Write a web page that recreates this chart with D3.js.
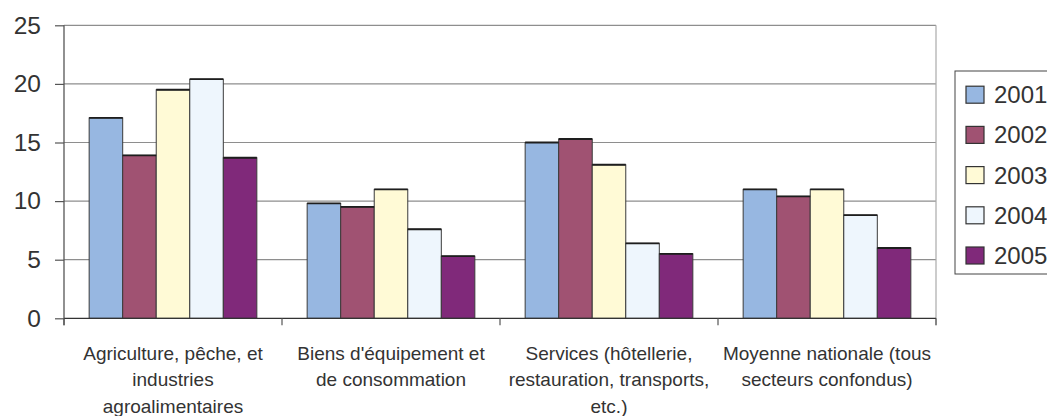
<!DOCTYPE html>
<html>
<head>
<meta charset="utf-8">
<script src="https://cdn.jsdelivr.net/npm/d3@7"></script>
<style>
  html, body { margin: 0; padding: 0; background: #fff; }
  svg { display: block; }
  text { font-family: "Liberation Sans", Arial, sans-serif; fill: #333; }
</style>
</head>
<body>
<svg id="chart" width="1047" height="416"></svg>
<script>
const categories = [
  ["Agriculture, pêche, et", "industries", "agroalimentaires"],
  ["Biens d'équipement et", "de consommation"],
  ["Services (hôtellerie,", "restauration, transports,", "etc.)"],
  ["Moyenne nationale (tous", "secteurs confondus)"]
];
const years = ["2001", "2002", "2003", "2004", "2005"];
const v2001 = [17.1, 9.8, 15.0, 11.0];
const v2002 = [13.9, 9.5, 15.3, 10.4];
const v2003 = [19.5, 11.0, 13.1, 11.0];
const v2004 = [20.4, 7.6, 6.4, 8.8];
const v2005 = [13.7, 5.3, 5.5, 6.0];
const yTicks = [0, 5, 10, 15, 20, 25];
const colors = ["#97b7e1", "#a05272", "#fffad6", "#eef6fd", "#80297a"];

(function () {
const series = [v2001, v2002, v2003, v2004, v2005];
const svg = d3.select("#chart");
const pLeft = 64, pRight = 936, pTop = 25.3, pBottom = 318.3;

const x0 = d3.scaleBand().domain(d3.range(categories.length)).range([pLeft, pRight]).paddingInner(0).paddingOuter(0);
const x1 = d3.scaleBand().domain(years).range([0, x0.bandwidth()]).paddingInner(0).paddingOuter(0.75);
const y = d3.scaleLinear().domain([0, 25]).range([pBottom, pTop]);

// gridlines
svg.append("g").selectAll("line").data(yTicks.filter(d => d > 0)).join("line")
  .attr("x1", pLeft).attr("x2", pRight)
  .attr("y1", d => y(d)).attr("y2", d => y(d))
  .attr("stroke", "#8e8e8e").attr("stroke-width", 1.2);

// right border of plot area
svg.append("line").attr("x1", pRight).attr("x2", pRight).attr("y1", pTop).attr("y2", pBottom + 7)
  .attr("stroke", "#aaa").attr("stroke-width", 1.2);

// y axis
const yAxis = d3.axisLeft(y).tickValues(yTicks).tickSize(9).tickPadding(14);
const gy = svg.append("g").attr("transform", `translate(${pLeft},0)`).call(yAxis);
gy.select(".domain").remove();
gy.selectAll(".tick line").attr("stroke", "#555").attr("stroke-width", 1.2);
gy.selectAll(".tick text").attr("font-size", 24.5).attr("fill", "#333")
  .style("font-family", '"Liberation Sans", Arial, sans-serif');
svg.append("line").attr("x1", pLeft).attr("x2", pLeft).attr("y1", pTop).attr("y2", pBottom + 7)
  .attr("stroke", "#555").attr("stroke-width", 1.3);

// bars
const groups = svg.append("g").selectAll("g").data(categories.map((c, i) => i)).join("g")
  .attr("transform", i => `translate(${x0(i)},0)`);
groups.each(function(ci) {
  const g = d3.select(this);
  const data = years.map((yr, si) => ({ yr, si, v: series[si][ci] }));
  g.selectAll("rect").data(data).join("rect")
    .attr("x", d => x1(d.yr)).attr("width", x1.bandwidth())
    .attr("y", d => y(d.v)).attr("height", d => pBottom - y(d.v))
    .attr("fill", d => colors[d.si]).attr("stroke", "#3a3a3a").attr("stroke-width", 1);
  g.selectAll("line.top").data(data).join("line").attr("class", "top")
    .attr("x1", d => x1(d.yr)).attr("x2", d => x1(d.yr) + x1.bandwidth())
    .attr("y1", d => y(d.v)).attr("y2", d => y(d.v))
    .attr("stroke", "#1e1e1e").attr("stroke-width", 1.8);
});

// x axis baseline and ticks
svg.append("line").attr("x1", pLeft).attr("x2", pRight).attr("y1", pBottom).attr("y2", pBottom)
  .attr("stroke", "#333").attr("stroke-width", 1.3);
const bounds = x0.domain().map(i => x0(i)).concat([pRight]);
svg.append("g").selectAll("line").data(bounds).join("line")
  .attr("x1", d => d).attr("x2", d => d).attr("y1", pBottom).attr("y2", pBottom + 7)
  .attr("stroke", "#555").attr("stroke-width", 1.2);

// x labels
const xl = svg.append("g").selectAll("text").data(categories).join("text")
  .attr("text-anchor", "middle").attr("font-size", 19).attr("fill", "#333")
  .attr("x", (d, i) => x0(i) + x0.bandwidth() / 2).attr("y", 359.5);
xl.selectAll("tspan").data(d => d).join("tspan")
  .attr("x", function() { return d3.select(this.parentNode).attr("x"); })
  .attr("dy", (d, i) => i === 0 ? 0 : 26.5)
  .text(d => d);

// legend
const lg = svg.append("g");
lg.append("rect").attr("x", 955).attr("y", 71).attr("width", 120).attr("height", 203)
  .attr("fill", "#fff").attr("stroke", "#444").attr("stroke-width", 1);
const items = lg.selectAll("g").data(years).join("g")
  .attr("transform", (d, i) => `translate(966, ${94.7 + i * 40.2})`);
items.append("rect").attr("x", 0).attr("y", -8.5).attr("width", 18).attr("height", 17)
  .attr("fill", (d, i) => colors[i]).attr("stroke", "#333").attr("stroke-width", 1.2);
items.append("text").attr("x", 28).attr("y", 0).attr("dy", "0.35em")
  .attr("font-size", 24).attr("fill", "#333").text(d => d);
})();
</script>
</body>
</html>
